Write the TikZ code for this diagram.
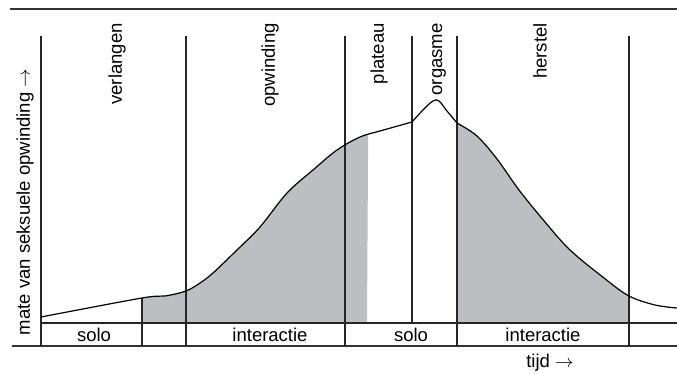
\documentclass[tikz,border=0pt]{standalone}
\usepackage{fontspec}
\setmainfont{Liberation Sans}
\definecolor{phasegrey}{RGB}{189,190,194}
\def\arousalcurve{plot[smooth,tension=0.55] coordinates {(41,317) (142,298) (165,296) (186,291) (200,283) (213,273) (237,250) (260,227) (287,193) (313,170) (337,150) (360,137) (380,131) (412,122)}
  -- plot[smooth,tension=0.6] coordinates {(412,122) (423,110) (433,101) (439,101) (447,111) (457,123)}
  -- plot[smooth,tension=0.55] coordinates {(457,123) (477,136) (497,159) (519,190) (545,222) (570,250) (604,278) (629,296) (655,305) (677,308)}}

\begin{document}
\begin{tikzpicture}[x=0.5pt,y=-0.5pt,
    every node/.style={font=\fontsize{9.25}{11}\selectfont,inner sep=0pt},
    frame/.style={line width=0.7pt,black!80},
    divider/.style={line width=0.55pt,black!85},
    phase/.style={rotate=90,anchor=east}]
  \useasboundingbox (0,0) rectangle (677,374);

  % Shaded interaction areas
  \begin{scope}
    \clip (142,0) -- (369,0) -- (367,323) -- (142,323) -- cycle
          (457,0) rectangle (629,323);
    \fill[phasegrey] \arousalcurve -- (677,323) -- (41,323) -- cycle;
  \end{scope}

  % Frame
  \draw[frame] (10,9) -- (677,9);
  \draw[frame] (12,346) -- (677,346);
  \draw[divider] (41,323) -- (677,323);

  % Phase borders
  \foreach \x in {41,186,345,457,629}
    \draw[divider] (\x,36) -- (\x,346);
  \draw[divider] (412,36) -- (412,323);
  \draw[divider] (142,298) -- (142,346);

  % Arousal curve
  \draw[line width=0.6pt] \arousalcurve;

  % Phase names
  \node[phase] (verlangen) at (117,23) {verlangen};
  \node[phase] (opwinding) at (270,23) {opwinding};
  \node[phase] (plateau) at (379,23) {plateau};
  \node[phase] (orgasme) at (439,23) {orgasme};
  \node[phase] (herstel) at (540,23) {herstel};

  % Solo / interaction row
  \node (solo1) at (94,335) {solo};
  \node (inter1) at (270,335) {interactie};
  \node (solo2) at (411,335) {solo};
  \node (inter2) at (543,335) {interactie};

  % Axis labels
  \node[rotate=90] (ylabel) at (25,202) {mate van seksuele opwinding $\rightarrow$};
  \node (xlabel) at (550,363) {tijd $\rightarrow$};
\end{tikzpicture}
\end{document}
